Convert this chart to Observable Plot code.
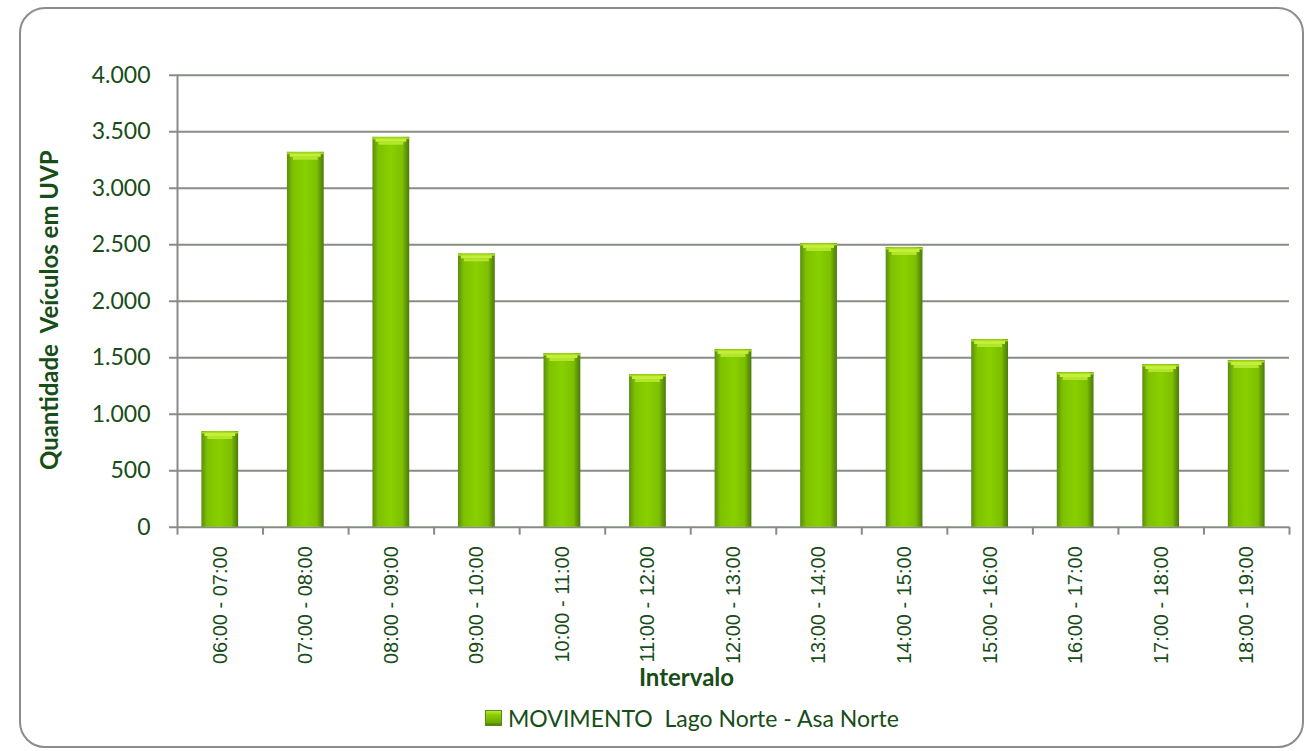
<!DOCTYPE html>
<html>
<head>
<meta charset="utf-8">
<script src="https://cdn.jsdelivr.net/npm/d3@7"></script>
<script src="https://cdn.jsdelivr.net/npm/@observablehq/plot@0.6"></script>
<style>
  html, body { margin: 0; padding: 0; background: #fff; }
  #wrap { position: relative; width: 1313px; height: 751px; overflow: hidden; background: #fff; }
  #chart { position: absolute; left: 0; top: 0; }
  #border { position: absolute; left: 19px; top: 7px; width: 1285px; height: 741px; box-sizing: border-box;
            border: 2px solid #8b8d8a; border-radius: 26px; pointer-events: none; }
  #legend { position: absolute; left: 485px; top: 704px; display: flex; align-items: center;
            font-family: Lato, "Open Sans", sans-serif; font-size: 23px; color: #174d17; white-space: pre; }
  #legend .sw { width: 17px; height: 16px; margin-right: 6px; box-sizing: border-box;
                background: linear-gradient(#b9ea3a 0%, #86cc00 30%, #6fae00 80%, #4e7c0a 100%);
                border: 1px solid #5b8a10; }
  #chart svg .xt text { font-family: "Liberation Sans", Arial, sans-serif; }
</style>
</head>
<body>
<div id="wrap">
  <div id="chart"></div>
  <div id="legend"><span class="sw"></span><span id="legendText"></span></div>
  <div id="border"></div>
</div>
<script>
const intervals = ["06:00 - 07:00", "07:00 - 08:00", "08:00 - 09:00", "09:00 - 10:00", "10:00 - 11:00",
  "11:00 - 12:00", "12:00 - 13:00", "13:00 - 14:00", "14:00 - 15:00", "15:00 - 16:00",
  "16:00 - 17:00", "17:00 - 18:00", "18:00 - 19:00"];
const values = [847, 3318, 3451, 2419, 1537, 1351, 1573, 2511, 2475, 1661, 1369, 1440, 1475];
const yTicks = [0, 500, 1000, 1500, 2000, 2500, 3000, 3500, 4000];
const yTitle = "Quantidade  Veículos em UVP";
const xTitle = "Intervalo";
const seriesName = "MOVIMENTO  Lago Norte - Asa Norte";

const data = intervals.map((k, i) => ({intervalo: k, valor: values[i]}));

const W = 1313, H = 700;
const mL = 177, mR = 24, mT = 74.7, mB = H - 526.7;
const step = (W - mL - mR) / intervals.length;
const half = step / 2;
const grid = "#878c85";
const txt = "#174d17";
const lato = "Lato, 'Open Sans', sans-serif";
const fmt = d => d3.format(",")(d).replace(/,/g, ".");

const chart = Plot.plot({
  width: W, height: H,
  marginLeft: mL, marginRight: mR, marginTop: mT, marginBottom: mB,
  style: {background: "transparent", overflow: "visible", fontFamily: "Liberation Sans, Arial, sans-serif"},
  x: {domain: intervals, paddingInner: 0.57, paddingOuter: 0.285, round: false, axis: null},
  y: {domain: [0, 4000], axis: null},
  marks: [
    Plot.ruleY(yTicks, {stroke: grid, strokeWidth: 2, insetLeft: -8}),
    Plot.ruleX(intervals, {x: d => d, dx: -half, y1: 0, y2: 0, insetTop: 8, stroke: grid, strokeWidth: 2}),
    Plot.ruleX([intervals[intervals.length - 1]], {x: d => d, dx: half, y1: 0, y2: 0, insetTop: 8, stroke: grid, strokeWidth: 2}),
    Plot.ruleX([intervals[0]], {x: d => d, dx: -half, y1: 0, y2: 4000, stroke: grid, strokeWidth: 2}),
    Plot.barY(data, {x: "intervalo", y: "valor", fill: "url(#barGrad)"}),
    Plot.tickY(data, {x: "intervalo", y: "valor", stroke: "#a6dc1c", strokeWidth: 2, dy: 1}),
    Plot.tickY(data, {x: "intervalo", y: "valor", stroke: "#c4ee3c", strokeWidth: 3, dy: 3, insetLeft: 3, insetRight: 3}),
    Plot.tickY(data, {x: "intervalo", y: "valor", stroke: "#b2e62a", strokeWidth: 3, dy: 6, insetLeft: 6, insetRight: 6}),
    Plot.axisY(yTicks, {tickSize: 0, tickPadding: 27, tickFormat: fmt, label: null,
      fontSize: 23, fontFamily: lato, fill: txt}),
    Plot.axisX({tickSize: 0, tickPadding: 19, tickRotate: -90, label: null, className: "xt",
      fontSize: 20, fill: txt}),
    Plot.text([yTitle], {frameAnchor: "left", textAnchor: "middle", lineAnchor: "middle", rotate: -90, dx: -127, dy: 9,
      fontWeight: "bold", fontSize: 24, fontFamily: lato, fill: txt}),
    Plot.text([xTitle], {frameAnchor: "bottom", textAnchor: "middle", lineAnchor: "middle", dx: 686 - (mL + (W - mL - mR) / 2), dy: 151,
      fontWeight: "bold", fontSize: 24, fontFamily: lato, fill: txt})
  ]
});

const svg = d3.select(chart);
const defs = svg.insert("defs", ":first-child");
const g = defs.append("linearGradient").attr("id", "barGrad").attr("x1", 0).attr("x2", 1).attr("y1", 0).attr("y2", 0);
[["0%", "#5b8c12"], ["7%", "#6aa40a"], ["16%", "#7ec200"], ["50%", "#88d000"], ["82%", "#7cbf00"], ["90%", "#659c08"], ["100%", "#4c7a0c"]]
  .forEach(([o, c]) => g.append("stop").attr("offset", o).attr("stop-color", c));

document.getElementById("chart").appendChild(chart);
document.getElementById("legendText").textContent = seriesName;
</script>
</body>
</html>
